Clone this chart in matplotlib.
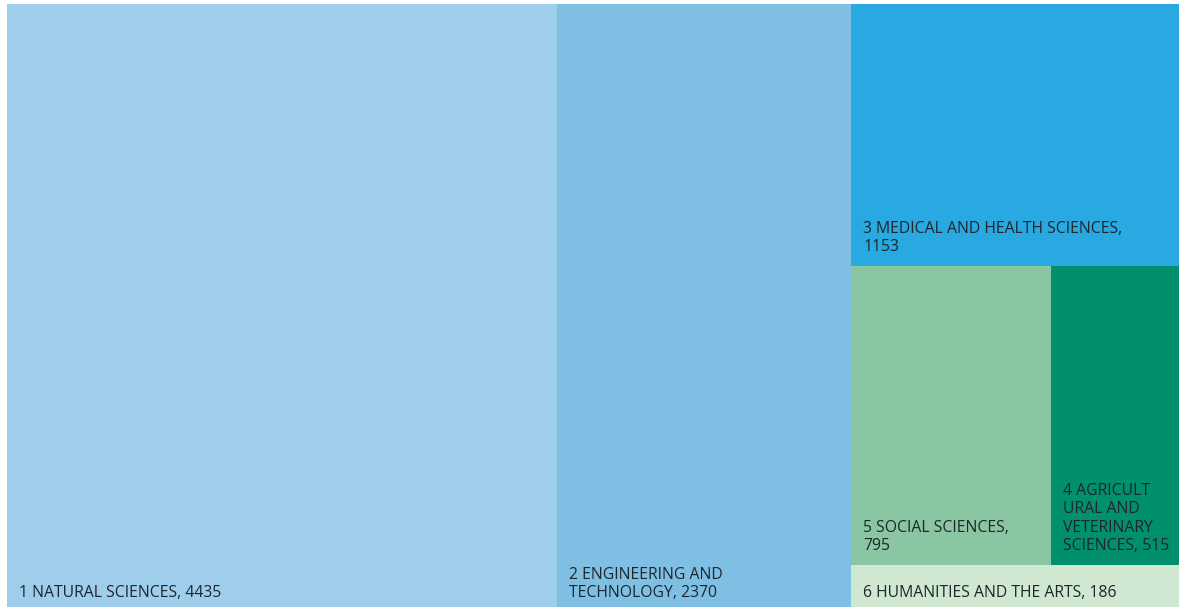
import numpy as np
import matplotlib.pyplot as plt
from matplotlib.patches import Rectangle

# research fields and their counts
labels = ["1 NATURAL SCIENCES, 4435",
          "2 ENGINEERING AND\nTECHNOLOGY, 2370",
          "3 MEDICAL AND HEALTH SCIENCES,\n1153",
          "5 SOCIAL SCIENCES,\n795",
          "4 AGRICULT\nURAL AND\nVETERINARY\nSCIENCES, 515",
          "6 HUMANITIES AND THE ARTS, 186"]
values = [4435, 2370, 1153, 795, 515, 186]
colors = ["#9fceec", "#7fbfe3", "#29a9e1", "#8ac6a2", "#00906d", "#d0e7d2"]

W, H = 1173.0, 603.0


def layout(vals):
    """Slice the first two columns, then stack the rest in the last column."""
    total = sum(vals)
    rects = []
    x = 0.0
    for v in vals[:2]:
        w = W * v / total
        rects.append((x, 0.0, w, H))
        x += w
    cw = W - x
    rest = sum(vals[2:])
    # medical on top
    h_med = H * vals[2] / rest
    rects.append((x, H - h_med, cw, h_med))
    # social + agricultural side by side
    h_row = H * (vals[3] + vals[4]) / rest
    y_row = H - h_med - h_row
    w_soc = cw * vals[3] / (vals[3] + vals[4])
    rects.append((x, y_row, w_soc, h_row))
    rects.append((x + w_soc, y_row, cw - w_soc, h_row))
    # humanities at the bottom
    rects.append((x, 0.0, cw, y_row))
    return rects


fig = plt.figure(figsize=(11.79, 6.07), dpi=100)
ax = fig.add_axes([7 / 1179, 0, W / 1179, H / 607])
ax.set_xlim(0, W)
ax.set_ylim(0, H)
ax.axis('off')

pads = [6, 6, 11, 11, 11, 6]
for (x, y, w, h), lab, c, pad in zip(layout(values), labels, colors, pads):
    ax.add_patch(Rectangle((x, y), w, h, facecolor=c, edgecolor='none'))
    ax.text(x + 12, y + pad, lab, ha='left', va='bottom',
            fontsize=11.3, family='Open Sans', color='#1e262c',
            linespacing=1.18)

fig.savefig('out.png', dpi=100)
